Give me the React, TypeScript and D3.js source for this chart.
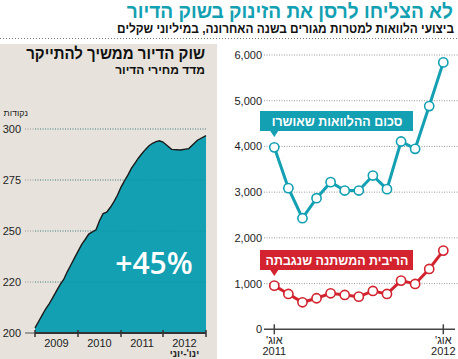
import * as d3 from 'd3';

const TEAL = '#12a0b2';
const RED = '#d2232f';
const BEIGE = '#e7e3dc';
const FONT = '"Liberation Sans", "DejaVu Sans", Arial, sans-serif';

// housing price index, monthly Jan 2009 - Jun 2012
const priceIndex = [
  202, 204.5, 207, 209.5, 211.5, 214, 216.5, 219, 221.5, 226, 230, 234,
  238, 242, 245, 248.2, 249.5, 250.5, 255, 258.5, 259.2, 261.5, 264.3, 267.5,
  271.5, 274.6, 277.5, 280.8, 283.3, 285.8, 288, 290, 291.8, 293, 293.8, 294.2,
  293.6, 290, 289.7, 290.4, 294.5, 296.7,
];
const years = ['2009', '2010', '2011', '2012'];
const yearStarts = [0, 12, 24, 36, 41];
const indexTicks = [200, 220, 250, 275, 300];

// mortgages, Aug 2011 - Aug 2012, million NIS
const approved = [3980, 3087, 2430, 2868, 3219, 3035, 3035, 3363, 3066, 4108, 3948, 4883, 5838];
const variableRate = [955, 773, 591, 679, 788, 751, 714, 839, 773, 1065, 992, 1320, 1721];
const loanTicks = [0, 1000, 2000, 3000, 4000, 5000, 6000];

// condensed text: the reference uses a narrow face, so squeeze horizontally
function Narrow(props: {
  x: number;
  y: number;
  sx: number;
  size: number;
  fill: string;
  anchor?: string;
  weight?: string;
  children: string;
}) {
  return (
    <text
      transform={`translate(${props.x},${props.y}) scale(${props.sx},1)`}
      textAnchor={props.anchor ?? 'end'}
      fontSize={props.size}
      fontWeight={props.weight ?? 'bold'}
      fill={props.fill}
    >
      {props.children}
    </text>
  );
}

export default function App() {
  // left panel scales
  const xL = d3.scaleLinear().domain(yearStarts).range([35, 78, 121, 163, 206]);
  const yL = d3.scaleLinear().domain(indexTicks).range([333, 282, 231, 180, 129]);
  const area = d3
    .area<number>()
    .x((_, i) => xL(i))
    .y0(yL(200))
    .y1((d) => yL(d));
  const line = d3
    .line<number>()
    .x((_, i) => xL(i))
    .y((d) => yL(d));

  // right panel scales
  const xR = d3.scaleLinear().domain([0, 12]).range([274.3, 443.3]);
  const yR = d3.scaleLinear().domain([0, 6000]).range([329.3, 55]);
  const lineR = d3
    .line<number>()
    .x((_, i) => xR(i))
    .y((d) => yR(d));
  const fmt = d3.format(',');

  const labelBox = (y: number, color: string, text: string) => (
    <g>
      <rect x={260} y={y} width={153} height={20} fill={color} />
      <path d={`M${xR(0) - 4},${y + 20} L${xR(0) + 4},${y + 20} L${xR(0)},${y + 26} Z`} fill={color} />
      <Narrow x={337} y={y + 15} sx={0.92} size={13.5} fill="#fff" anchor="middle">
        {text}
      </Narrow>
    </g>
  );

  return (
    <svg
      width={458}
      height={359}
      style={{ position: 'absolute', left: 0, top: 0, fontFamily: FONT }}
    >
      <rect width={458} height={359} fill="#fff" />
      <Narrow x={453} y={18} sx={0.93} size={20.5} fill={TEAL}>
        לא הצליחו לרסן את הזינוק בשוק הדיור
      </Narrow>
      <Narrow x={454} y={33} sx={0.95} size={12.5} fill="#111">
        ביצועי הלוואות למטרות מגורים בשנה האחרונה, במיליוני שקלים
      </Narrow>
      <line x1={0} x2={458} y1={38.5} y2={38.5} stroke="#777" strokeDasharray="1 2" />

      {/* left panel */}
      <rect x={0} y={44} width={217} height={315} fill={BEIGE} />
      <Narrow x={205} y={59} sx={0.91} size={16.5} fill="#111">
        שוק הדיור ממשיך להתייקר
      </Narrow>
      <text x={205} y={74} textAnchor="end" fontSize={12} fontWeight="bold" fill="#111">
        מדד מחירי הדיור
      </text>
      <text x={28} y={116} textAnchor="end" fontSize={9} fill="#222">
        נקודות
      </text>
      {indexTicks.slice(1).map((t) => (
        <line key={t} x1={25} x2={206} y1={yL(t)} y2={yL(t)} stroke="#999" strokeDasharray="1 1.5" />
      ))}
      <path d={area(priceIndex) ?? ''} fill={TEAL} />
      <path d={line(priceIndex) ?? ''} fill="none" stroke="#1b1b1b" strokeWidth={1.4} />
      {indexTicks.slice(1).map((t) => (
        <line key={'g' + t} x1={xL(0)} x2={206} y1={yL(t)} y2={yL(t)} stroke="#0a7f8e" strokeOpacity={0.5} strokeDasharray="1 1.5" />
      ))}
      {indexTicks.map((t) => (
        <text key={t} x={21} y={yL(t) + 4} textAnchor="end" fontSize={11} fill="#222">
          {t}
        </text>
      ))}
      <line x1={25} x2={xL(0)} y1={yL(200)} y2={yL(200)} stroke="#555" strokeWidth={1} />
      <line x1={xL(0)} x2={206} y1={yL(200)} y2={yL(200)} stroke="#333" strokeWidth={2} />
      {yearStarts.map((m) => (
        <line key={m} x1={xL(m)} x2={xL(m)} y1={yL(200) - 3} y2={yL(200) + 4} stroke="#333" strokeWidth={1.5} />
      ))}
      {years.map((yr, i) => (
        <text key={yr} x={(xL(yearStarts[i]) + xL(yearStarts[i + 1])) / 2} y={347} textAnchor="middle" fontSize={11} fill="#222">
          {yr}
        </text>
      ))}
      <text x={(xL(36) + xL(41)) / 2} y={357} textAnchor="middle" fontSize={10} fontWeight="bold" fill="#222">
        {"ינו'-יוני\u200F"}
      </text>
      <text x={154} y={274} textAnchor="middle" fontSize={30} fontWeight={600} fill="#fff" fontFamily='"Open Sans", sans-serif'>
        +45%
      </text>

      {/* right panel */}
      {loanTicks.slice(1).map((t) => (
        <line key={t} x1={264} x2={458} y1={yR(t)} y2={yR(t)} stroke="#999" strokeDasharray="1 1.5" />
      ))}
      {loanTicks.map((t) => (
        <text key={t} x={262} y={yR(t) + 4} textAnchor="end" fontSize={11} fill="#222">
          {fmt(t)}
        </text>
      ))}
      <line x1={264} x2={455} y1={yR(0)} y2={yR(0)} stroke="#444" strokeWidth={1.5} />
      {[0, 12].map((i) => (
        <line key={i} x1={xR(i)} x2={xR(i)} y1={yR(0) - 5} y2={yR(0) + 5} stroke="#444" strokeWidth={1.5} />
      ))}
      {[
        [0, '2011'],
        [12, '2012'],
      ].map(([i, yr]) => (
        <g key={yr as string}>
          <text x={xR(i as number)} y={344} textAnchor="middle" fontSize={11} fill="#222">
            {"אוג'\u200F"}
          </text>
          <text x={xR(i as number)} y={355} textAnchor="middle" fontSize={11} fill="#222">
            {yr}
          </text>
        </g>
      ))}

      <path d={lineR(approved) ?? ''} fill="none" stroke={TEAL} strokeWidth={3} />
      {approved.map((v, i) => (
        <circle key={i} cx={xR(i)} cy={yR(v)} r={4.6} fill="#fff" stroke={TEAL} strokeWidth={1.6} />
      ))}
      <path d={lineR(variableRate) ?? ''} fill="none" stroke={RED} strokeWidth={3} />
      {variableRate.map((v, i) => (
        <circle key={i} cx={xR(i)} cy={yR(v)} r={4.6} fill="#fff" stroke={RED} strokeWidth={1.6} />
      ))}

      {labelBox(111, TEAL, 'סכום ההלוואות שאושרו')}
      {labelBox(250, RED, 'הריבית המשתנה שנגבתה')}
    </svg>
  );
}
